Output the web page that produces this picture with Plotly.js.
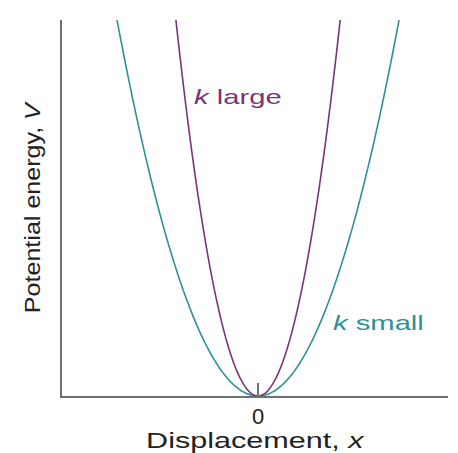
<!DOCTYPE html>
<html>
<head>
<meta charset="utf-8">
<script src="https://cdn.plot.ly/plotly-3.0.1.min.js"></script>
<style>
  html, body { margin: 0; padding: 0; background: #fff; }
  #chart { width: 458px; height: 453px; }
</style>
</head>
<body>
<div id="chart"></div>
<script>
// Harmonic potential V = ½ k x² for two force constants
const seriesNames = ['k small', 'k large'];
const forceConstants = [3.63, 10.7];
const seriesColors = ['#2e9294', '#7a357a'];
const xTickVals = [0];
const xTickText = ['0'];

// displacement samples across the visible range
const xs = [];
for (let i = -100; i <= 100; i++) xs.push(i / 100);

const traces = forceConstants.map((k, idx) => ({
  type: 'scatter',
  mode: 'lines',
  name: seriesNames[idx],
  x: xs,
  y: xs.map(x => 0.5 * k * x * x),
  line: { color: seriesColors[idx], width: 1.6, shape: 'spline' },
  hoverinfo: 'skip'
}));

const font = 'Liberation Sans, Arial, Helvetica, sans-serif';

const layout = {
  width: 458,
  height: 453,
  margin: { l: 62, r: 10, t: 20, b: 57 },
  paper_bgcolor: '#ffffff',
  plot_bgcolor: '#ffffff',
  showlegend: false,
  font: { family: font, color: '#222' },
  xaxis: {
    range: [-1.032, 1.0],
    showgrid: false,
    zeroline: false,
    showline: true,
    linecolor: '#707070',
    linewidth: 2,
    tickmode: 'array',
    tickvals: xTickVals,
    ticktext: xTickText,
    ticks: 'inside',
    ticklen: 13,
    tickwidth: 1.5,
    tickcolor: '#707070',
    tickfont: { size: 22, family: font, color: '#222' },
    title: { text: 'Displacement, <i>x</i>', font: { size: 22, family: font, color: '#222' }, standoff: 2 }
  },
  yaxis: {
    range: [0, 1],
    showgrid: false,
    zeroline: false,
    showline: true,
    linecolor: '#707070',
    linewidth: 2,
    showticklabels: false,
    ticks: '',
    title: { text: 'Potential energy, <i>V</i>', font: { size: 22, family: font, color: '#222' } }
  },
  annotations: [
    {
      x: -0.347, y: 0.795, xref: 'x', yref: 'y',
      xanchor: 'left', yanchor: 'middle',
      text: '<i>k</i> large', showarrow: false,
      font: { size: 20, family: font, color: seriesColors[1] }
    },
    {
      x: 0.384, y: 0.194, xref: 'x', yref: 'y',
      xanchor: 'left', yanchor: 'middle',
      text: '<i>k</i> small', showarrow: false,
      font: { size: 20, family: font, color: seriesColors[0] }
    }
  ]
};

// widen a text element along its own baseline, about its centre or left edge,
// then optionally shift it on screen
function widenText(el, factor, anchor, shiftX) {
  if (!el) return;
  const bb = el.getBBox();
  const cx = anchor === 'left' ? bb.x : bb.x + bb.width / 2;
  const prev = el.getAttribute('transform') || '';
  const shift = shiftX ? 'translate(' + shiftX + ',0) ' : '';
  el.setAttribute('transform',
    shift + prev + ' matrix(' + factor + ',0,0,1,' + (cx - factor * cx) + ',0)');
}

Plotly.newPlot('chart', traces, layout, { displayModeBar: false, staticPlot: true })
  .then(gd => {
    widenText(gd.querySelector('.xtitle'), 1.39, 'center', 0);
    widenText(gd.querySelector('.ytitle'), 1.14, 'center', 20);
    gd.querySelectorAll('.annotation-text').forEach(t => widenText(t, 1.46, 'left', 0));
  });
</script>
</body>
</html>
